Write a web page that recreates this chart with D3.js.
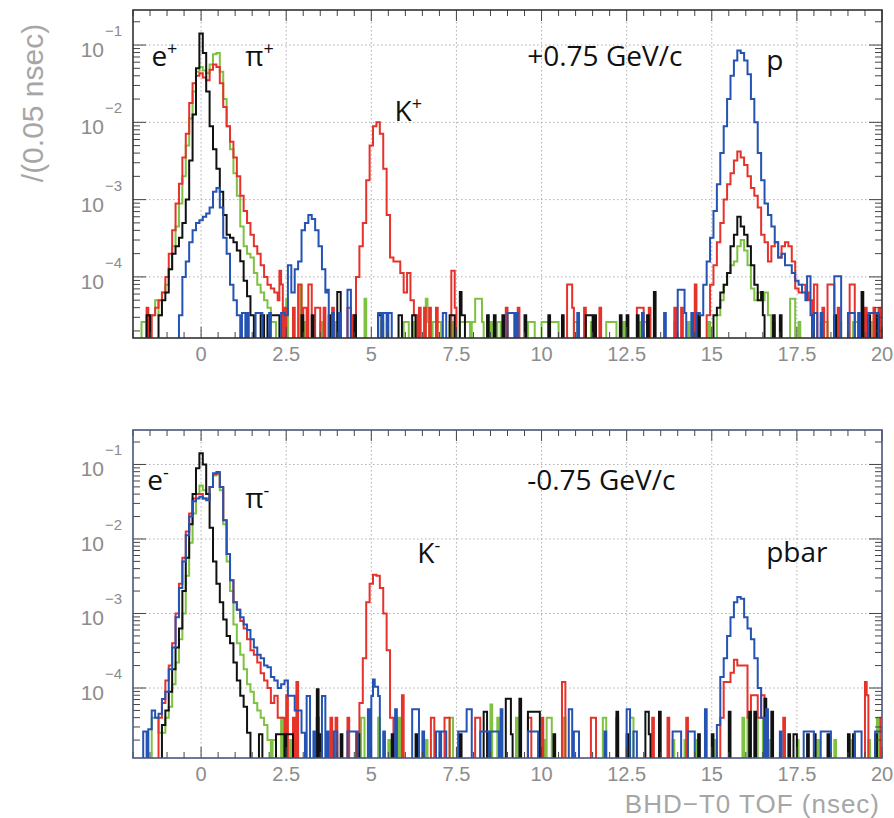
<!DOCTYPE html>
<html>
<head>
<meta charset="utf-8">
<script src="https://cdn.jsdelivr.net/npm/d3@7"></script>
<style>
  body { margin: 0; background: #fff; }
  svg { display: block; }
</style>
</head>
<body>
<svg class="chart"></svg>
<script>
var width = 894;
var height = 818;

// histogram binning (ns)
var binWidth = 0.05;
var xDomain = [-2, 20];
var xTickLabels = [0, 2.5, 5, 7.5, 10, 12.5, 15, 17.5, 20];
var gridX = [0, 2.5, 5, 7.5, 10, 12.5, 15, 17.5];
var decades = [1e-4, 1e-3, 1e-2, 1e-1];

// content of one entry, each histogram has its own normalisation
var topUnit = {black: 3.2e-5, red: 4.0e-5, green: 2.6e-5, blue: 3.4e-5};
var botUnit = {black: 2.4e-5, red: 4.0e-5, green: 2.0e-5, blue: 2.6e-5};

// peaks: [left edge of first bin, contents read every 0.1 ns]
var topBlackPeaks = [
  [-1.25, [3.2e-5, 5.0e-5, 6.3e-5, 1.26e-4, 2.0e-4, 2.5e-4, 3.2e-4, 5.0e-4, 1.0e-3, 3.2e-3, 1.26e-2, 5.0e-2, 0.141, 7.9e-2,
           2.5e-2, 8.9e-3, 4.5e-3, 2.5e-3, 1.26e-3, 6.3e-4, 3.5e-4, 3.2e-4, 2.8e-4, 2.2e-4, 1.6e-4, 8.9e-5, 5.6e-5, 3.2e-5]],
  [15.05, [3.2e-5, 4.0e-5, 6.3e-5, 7.9e-5, 1.12e-4, 2.5e-4, 3.5e-4, 6.0e-4, 4.5e-4, 3.5e-4, 2.5e-4, 1.41e-4, 7.9e-5, 5.0e-5, 3.2e-5]]
];
var topRedPeaks = [
  [-1.45, [3.2e-5, 4.0e-5, 5.0e-5, 6.3e-5, 1.0e-4, 2.0e-4, 4.0e-4, 8.9e-4, 1.6e-3, 3.5e-3, 7.1e-3, 1.78e-2, 3.2e-2, 4.0e-2,
           4.3e-2, 3.8e-2, 3.5e-2, 4.8e-2, 5.6e-2, 5.2e-2, 3.2e-2, 1.58e-2, 8.9e-3, 5.6e-3, 3.5e-3, 2.0e-3, 1.12e-3, 7.1e-4,
           5.0e-4, 3.5e-4, 2.5e-4, 2.0e-4, 1.41e-4, 1.0e-4, 7.9e-5, 7.1e-5, 6.3e-5, 5.0e-5]],
  [4.45, [3.2e-5, 1.0e-4, 2.5e-4, 5.0e-4, 1.78e-3, 5.0e-3, 8.9e-3, 1.0e-2, 7.1e-3, 2.5e-3, 6.3e-4, 1.78e-4, 1.58e-4, 1.58e-4,
          1.12e-4, 6.3e-5, 1.12e-4, 5.0e-5, 3.2e-5]],
  [14.85, [3.2e-5, 7.9e-5, 1.41e-4, 2.8e-4, 5.0e-4, 1.0e-3, 1.58e-3, 2.2e-3, 3.2e-3, 4.2e-3, 3.5e-3, 2.8e-3, 2.0e-3, 1.41e-3,
           1.12e-3, 7.9e-4, 3.5e-4, 2.8e-4, 1.58e-4, 2.5e-4, 2.8e-4, 1.78e-4, 2.5e-4, 2.8e-4, 2.5e-4, 1.58e-4, 7.1e-5, 6.3e-5,
           7.9e-5, 6.3e-5, 5.0e-5, 3.2e-5]]
];
var topGreenPeaks = [
  [-1.55, [3.2e-5, 3.2e-5, 5.0e-5, 3.2e-5, 6.3e-5, 7.9e-5, 1.26e-4, 2.5e-4, 4.5e-4, 8.9e-4, 2.0e-3, 5.0e-3, 1.12e-2, 2.5e-2,
           4.5e-2, 5.2e-2, 4.7e-2, 4.3e-2, 5.6e-2, 7.6e-2, 7.9e-2, 4.5e-2, 2.0e-2, 8.9e-3, 4.5e-3, 2.2e-3, 1.12e-3, 4.5e-4,
           2.5e-4, 2.0e-4, 1.78e-4, 1.12e-4, 7.9e-5, 6.3e-5, 5.0e-5, 4.0e-5]],
  [15.15, [3.2e-5, 5.0e-5, 7.9e-5, 1.12e-4, 1.41e-4, 1.58e-4, 2.5e-4, 3.0e-4, 2.2e-4, 1.41e-4, 7.1e-5, 5.0e-5, 6.3e-5, 5.0e-5,
           6.3e-5, 3.2e-5]]
];
var topBluePeaks = [
  [-0.65, [3.2e-5, 1.0e-4, 1.58e-4, 2.8e-4, 4.0e-4, 5.0e-4, 5.4e-4, 6.0e-4, 6.6e-4, 7.9e-4, 1.26e-3, 1.41e-3, 7.9e-4, 3.2e-4,
           2.0e-4, 7.9e-5, 5.0e-5, 3.2e-5]],
  [2.45, [3.2e-5, 1.41e-4, 6.3e-5, 1.26e-4, 1.58e-4, 4.0e-4, 5.0e-4, 6.3e-4, 5.6e-4, 4.0e-4, 2.5e-4, 1.26e-4, 6.3e-5]],
  [14.65, [3.2e-5, 7.9e-5, 1.58e-4, 3.2e-4, 7.1e-4, 1.58e-3, 4.0e-3, 8.9e-3, 2.0e-2, 4.0e-2, 6.3e-2, 8.5e-2, 7.9e-2, 6.3e-2,
           4.2e-2, 2.0e-2, 1.0e-2, 4.0e-3, 1.78e-3, 8.9e-4, 6.3e-4, 4.5e-4, 2.8e-4, 1.78e-4, 2.0e-4, 1.41e-4, 1.41e-4, 1.12e-4,
           8.9e-5, 7.9e-5, 6.3e-5, 5.0e-5, 3.2e-5]]
];

// isolated background entries: [from, to, entries per bin]
var topBlackHits = [
  [-1.6, -1.5, 1], [1.75, 1.85, 1], [1.95, 2.3, 1], [2.95, 3.0, 1], [3.25, 3.3, 1], [3.75, 3.8, 1], [4.0, 4.1, 2],
  [4.5, 4.55, 1], [5.2, 5.3, 1], [5.8, 5.9, 1], [6.2, 6.3, 1], [7.3, 7.45, 1], [7.6, 7.65, 2], [7.65, 7.75, 1],
  [8.4, 8.45, 1], [8.6, 8.65, 1], [8.85, 8.9, 1], [9.5, 9.55, 1], [10.2, 10.25, 1], [10.6, 10.65, 1], [11.3, 11.5, 1],
  [11.55, 11.6, 1], [12.3, 12.35, 1], [12.5, 12.55, 1], [12.8, 12.85, 1], [13.1, 13.15, 1], [13.3, 13.35, 2],
  [14.6, 14.65, 1], [16.45, 16.5, 2], [16.8, 16.85, 1], [17.0, 17.05, 1], [17.95, 18.0, 1], [18.6, 18.65, 1],
  [19.4, 19.45, 2], [19.6, 19.65, 1], [19.85, 19.9, 1]
];
var topRedHits = [
  [-1.6, -1.55, 1], [2.3, 2.35, 3], [2.35, 2.4, 2], [2.45, 2.5, 1], [2.7, 2.75, 1], [2.85, 2.95, 2], [3.0, 3.1, 1],
  [3.15, 3.25, 2], [3.35, 3.5, 1], [3.6, 3.65, 1], [3.85, 3.9, 1], [4.3, 4.4, 1], [6.4, 6.45, 1], [6.55, 6.6, 1],
  [6.7, 6.75, 1], [6.9, 6.95, 1], [7.35, 7.45, 3], [7.45, 7.5, 1], [8.95, 9.0, 1], [9.3, 9.35, 1], [10.75, 10.9, 2],
  [10.9, 10.95, 1], [11.25, 11.3, 1], [11.7, 11.75, 1], [12.8, 13.0, 1], [13.15, 13.2, 1], [13.9, 13.95, 1],
  [14.1, 14.15, 1], [14.5, 14.55, 2], [18.0, 18.1, 2], [18.25, 18.3, 1], [18.4, 18.6, 2], [18.7, 18.75, 1],
  [19.05, 19.2, 2], [19.5, 19.55, 1], [19.75, 19.8, 1], [19.9, 19.95, 1]
];
var topGreenHits = [
  [-1.75, -1.6, 1], [2.05, 2.2, 1], [2.5, 2.55, 2], [2.9, 2.95, 3], [3.0, 3.05, 1], [3.5, 3.55, 1], [3.95, 4.05, 1],
  [4.5, 4.55, 1], [4.8, 4.85, 2], [5.3, 5.35, 1], [5.95, 6.1, 1], [6.25, 6.35, 1], [6.6, 6.65, 2], [6.65, 6.7, 1],
  [6.8, 7.05, 1], [7.3, 7.4, 1], [7.6, 7.9, 1], [7.95, 8.05, 1], [8.05, 8.25, 2], [8.25, 8.3, 1], [8.5, 8.55, 1],
  [8.7, 8.8, 1], [8.9, 9.0, 1], [9.6, 9.8, 1], [10.0, 10.2, 1], [10.25, 10.5, 1], [10.95, 11.05, 1], [11.45, 11.5, 1],
  [11.9, 12.2, 1], [12.4, 12.45, 1], [12.9, 13.1, 1], [13.9, 13.95, 1], [14.3, 14.35, 1], [14.55, 14.6, 1],
  [14.9, 14.95, 1], [16.8, 16.85, 1], [17.3, 17.45, 2], [17.55, 17.6, 1], [18.2, 18.4, 1], [18.65, 18.8, 1],
  [19.15, 19.3, 1], [19.5, 19.7, 1], [19.9, 19.95, 1]
];
var topBlueHits = [
  [1.2, 1.3, 1], [1.35, 1.4, 1], [1.6, 1.8, 1], [2.0, 2.05, 1], [2.35, 2.45, 1], [3.7, 3.75, 2], [3.85, 3.9, 1],
  [4.05, 4.1, 1], [4.3, 4.4, 2], [5.2, 5.3, 1], [5.35, 5.45, 1], [5.5, 5.6, 1], [7.1, 7.2, 1], [9.0, 9.2, 1],
  [9.25, 9.3, 1], [11.05, 11.1, 1], [12.95, 13.0, 1], [13.6, 13.65, 1], [14.0, 14.2, 2], [14.2, 14.25, 1],
  [14.4, 14.45, 1], [14.55, 14.65, 1], [17.8, 17.9, 3], [18.0, 18.1, 1], [18.2, 18.25, 1], [18.6, 18.8, 3],
  [19.0, 19.2, 1], [19.3, 19.35, 1], [19.6, 19.9, 1]
];

var botBlackPeaks = [
  [-1.15, [3.2e-5, 5.0e-5, 8.9e-5, 1.78e-4, 3.5e-4, 6.3e-4, 2.0e-3, 5.6e-3, 1.58e-2, 4.0e-2, 8.9e-2, 0.141, 0.10, 4.0e-2,
           1.41e-2, 5.0e-3, 2.5e-3, 1.41e-3, 8.3e-4, 5.0e-4, 4.0e-4, 2.2e-4, 1.26e-4, 7.9e-5, 5.6e-5, 2.5e-5]]
];
var botRedPeaks = [
  [-1.25, [4.0e-5, 6.3e-5, 1.26e-4, 2.0e-4, 4.0e-4, 1.0e-3, 2.5e-3, 5.6e-3, 1.26e-2, 2.2e-2, 3.5e-2, 4.0e-2, 4.0e-2, 3.5e-2,
           3.5e-2, 5.0e-2, 7.4e-2, 7.6e-2, 5.0e-2, 1.78e-2, 6.3e-3, 2.8e-3, 1.41e-3, 1.12e-3, 7.9e-4, 6.3e-4, 4.5e-4, 3.2e-4,
           2.8e-4, 2.2e-4, 1.58e-4, 1.26e-4, 1.0e-4, 6.3e-5, 7.9e-5, 4.0e-5, 4.0e-5]],
  [4.55, [2.5e-5, 6.3e-5, 2.5e-4, 1.41e-3, 2.5e-3, 3.3e-3, 3.2e-3, 2.2e-3, 1.0e-3, 3.2e-4, 4.0e-5]],
  [15.25, [4.0e-5, 1.2e-4, 1.2e-4, 1.6e-4, 2.4e-4, 2.0e-4, 2.0e-4, 2.0e-4, 4.0e-5, 8.0e-5, 8.0e-5, 4.0e-5, 8.0e-5, 4.0e-5]]
];
var botGreenPeaks = [
  [-1.25, [2.5e-5, 2.5e-5, 4.0e-5, 5.6e-5, 1.12e-4, 2.2e-4, 4.5e-4, 1.0e-3, 3.2e-3, 8.9e-3, 2.2e-2, 4.0e-2, 5.2e-2, 4.5e-2,
           4.0e-2, 5.0e-2, 7.1e-2, 7.4e-2, 4.5e-2, 1.58e-2, 5.0e-3, 2.0e-3, 7.1e-4, 4.0e-4, 2.8e-4, 1.78e-4, 1.12e-4, 8.9e-5,
           6.3e-5, 5.0e-5, 4.0e-5, 3.2e-5, 2.0e-5]]
];
var botBluePeaks = [
  [-1.55, [2.8e-5, 5.0e-5, 4.0e-5, 4.5e-5, 7.1e-5, 8.9e-5, 1.78e-4, 3.5e-4, 8.9e-4, 2.2e-3, 5.0e-3, 1.12e-2, 2.0e-2, 3.2e-2,
           3.5e-2, 3.7e-2, 3.5e-2, 3.3e-2, 5.0e-2, 7.6e-2, 7.9e-2, 5.0e-2, 1.78e-2, 6.3e-3, 2.8e-3, 1.41e-3, 1.12e-3, 8.9e-4,
           7.1e-4, 6.0e-4, 4.5e-4, 3.5e-4, 2.8e-4, 2.5e-4, 2.0e-4, 1.9e-4, 1.41e-4, 1.26e-4, 1.0e-4, 1.12e-4, 1.26e-4, 7.9e-5,
           7.9e-5, 5.0e-5, 5.0e-5, 2.5e-5]],
  [15.15, [3.2e-5, 1.41e-4, 2.5e-4, 5.0e-4, 8.9e-4, 1.41e-3, 1.66e-3, 1.58e-3, 8.9e-4, 6.3e-4, 4.5e-4, 2.5e-4, 1.0e-4, 4.0e-5]]
];

var botBlackHits = [
  [1.7, 1.8, 1], [2.2, 2.45, 1], [2.5, 2.7, 1], [3.4, 3.45, 4], [3.5, 3.55, 1], [4.1, 4.15, 1], [4.6, 4.65, 1],
  [5.6, 5.65, 1], [6.3, 6.35, 1], [7.6, 7.65, 1], [8.3, 8.4, 2], [8.95, 9.1, 3], [9.1, 9.15, 1], [9.35, 9.4, 3],
  [9.6, 9.95, 2], [10.35, 10.4, 1], [12.2, 12.25, 2], [12.5, 12.55, 1], [13.05, 13.15, 2], [13.15, 13.2, 1],
  [13.45, 13.5, 2], [14.6, 14.65, 1], [15.0, 15.05, 1], [15.5, 15.55, 2], [16.1, 16.15, 2], [16.25, 16.3, 2],
  [16.55, 16.6, 3], [16.75, 16.8, 2], [17.25, 17.3, 1], [17.4, 17.5, 1], [17.8, 17.85, 1], [18.0, 18.05, 1],
  [18.4, 18.45, 1], [19.0, 19.05, 1], [19.15, 19.2, 1], [19.8, 19.85, 1]
];
var botRedHits = [
  [2.5, 2.55, 2], [2.7, 2.75, 1], [2.8, 2.85, 3], [3.4, 3.45, 1], [3.8, 3.85, 1], [3.95, 4.0, 1], [4.3, 4.35, 1],
  [5.7, 5.75, 1], [5.9, 5.95, 2], [6.75, 6.85, 1], [7.15, 7.3, 1], [8.05, 8.2, 1], [9.6, 9.7, 1], [10.0, 10.05, 1],
  [10.6, 10.7, 3], [11.45, 11.6, 1], [12.2, 12.25, 1], [13.25, 13.3, 1], [13.7, 13.75, 1], [14.25, 14.3, 1],
  [17.1, 17.15, 1], [19.5, 19.55, 3], [19.55, 19.6, 2], [19.95, 20.0, 1]
];
var botGreenHits = [
  [-1.45, -1.25, 2], [2.1, 2.2, 1], [2.35, 2.4, 2], [2.6, 2.65, 1], [3.4, 3.45, 2], [3.9, 4.0, 1], [4.7, 4.8, 2],
  [5.2, 5.25, 2], [5.5, 5.55, 1], [5.8, 5.85, 2], [6.6, 6.65, 1], [7.3, 7.4, 2], [8.5, 8.55, 3], [8.7, 8.75, 2],
  [9.25, 9.3, 2], [9.9, 10.1, 1], [10.15, 10.3, 2], [10.65, 10.7, 2], [11.8, 11.9, 2], [12.6, 12.7, 2],
  [13.85, 13.9, 1], [14.2, 14.25, 1], [14.55, 14.6, 1], [15.1, 15.15, 1], [15.9, 15.95, 2], [16.05, 16.1, 2],
  [16.3, 16.35, 2], [16.5, 16.55, 2], [16.65, 16.7, 1], [17.5, 17.55, 1], [18.1, 18.15, 1], [18.6, 18.65, 1],
  [19.1, 19.15, 1], [19.6, 19.65, 1], [19.85, 19.9, 2]
];
var botBlueHits = [
  [-1.7, -1.6, 1], [3.1, 3.2, 3], [3.3, 3.35, 1], [3.55, 3.65, 3], [3.7, 3.75, 1], [3.9, 4.0, 1], [4.3, 4.6, 1],
  [4.9, 4.95, 2], [5.0, 5.05, 3], [5.05, 5.1, 5], [5.1, 5.2, 4], [5.2, 5.25, 3], [5.35, 5.4, 1], [5.7, 5.75, 2],
  [6.2, 6.4, 2], [6.5, 6.55, 1], [6.9, 7.0, 1], [7.05, 7.2, 1], [7.55, 7.8, 1], [7.8, 7.95, 2], [8.2, 8.45, 1],
  [8.5, 8.75, 1], [8.8, 8.85, 2], [9.6, 9.9, 1], [10.8, 10.9, 2], [10.95, 11.1, 1], [11.85, 11.9, 1], [12.5, 12.6, 2],
  [12.7, 12.8, 1], [13.85, 14.1, 1], [14.3, 14.5, 1], [14.8, 14.85, 2], [16.6, 16.65, 2], [17.0, 17.05, 1],
  [17.7, 18.0, 1], [18.2, 18.5, 1], [19.2, 19.4, 1], [19.8, 20.0, 1]
];

var colors = {black: '#111111', red: '#e5332c', green: '#7ec242', blue: '#2453b3'};
var drawOrder = ['green', 'red', 'black', 'blue'];

var panels = [
  {
    top: 10, bottom: 338, yDomain: [1.62e-5, 0.284], frame: '#333',
    peaks: {black: topBlackPeaks, red: topRedPeaks, green: topGreenPeaks, blue: topBluePeaks},
    hits: {black: topBlackHits, red: topRedHits, green: topGreenHits, blue: topBlueHits},
    unit: topUnit,
    notes: [
      {x: -1.46, y: 0.054, t: 'e', s: '+'},
      {x: 1.30, y: 0.054, t: 'π', s: '+'},
      {x: 9.58, y: 0.054, t: '+0.75 GeV/c', s: ''},
      {x: 5.68, y: 0.0104, t: 'K', s: '+'},
      {x: 16.6, y: 0.048, t: 'p', s: ''}
    ]
  },
  {
    top: 430, bottom: 758, yDomain: [1.15e-5, 0.29], frame: '#46577c',
    peaks: {black: botBlackPeaks, red: botRedPeaks, green: botGreenPeaks, blue: botBluePeaks},
    hits: {black: botBlackHits, red: botRedHits, green: botGreenHits, blue: botBlueHits},
    unit: botUnit,
    notes: [
      {x: -1.58, y: 0.046, t: 'e', s: '-'},
      {x: 1.30, y: 0.026, t: 'π', s: '-'},
      {x: 9.58, y: 0.046, t: '-0.75 GeV/c', s: ''},
      {x: 6.35, y: 0.0048, t: 'K', s: '-'},
      {x: 16.6, y: 0.0049, t: 'pbar', s: ''}
    ]
  }
];

var left = 133, right = 882;

var chart = d3.select('.chart')
  .attr('width', width)
  .attr('height', height)
  .attr('viewBox', '0 0 ' + width + ' ' + height);

var x = d3.scaleLinear().domain(xDomain).range([left, right]);

// fill the bins of one histogram from its peaks and background entries
var buildHist = function(peaks, hits, unit) {
  var nBins = Math.round((xDomain[1] - xDomain[0]) / binWidth);
  var bins = d3.range(nBins).map(function() { return 0; });
  var idx = function(v) { return Math.round((v - xDomain[0]) / binWidth); };
  peaks.forEach(function(p) {
    p[1].forEach(function(v, i) {
      var k = idx(p[0]) + 2 * i;
      bins[k] = v;
      bins[k + 1] = v;
    });
  });
  hits.forEach(function(h) {
    for (var k = idx(h[0]); k < idx(h[1]); k++) {
      bins[k] = Math.max(bins[k], h[2] * unit);
    }
  });
  var pts = bins.map(function(v, k) { return {x: xDomain[0] + k * binWidth, v: v}; });
  pts.push({x: xDomain[1], v: bins[nBins - 1]});
  return pts;
};

var tickFont = '"Liberation Sans", Arial, sans-serif';

panels.forEach(function(p, pi) {
  var y = d3.scaleLog().domain(p.yDomain).range([p.bottom, p.top]);
  var g = chart.append('g');

  g.append('clipPath').attr('id', 'clip' + pi)
    .append('rect')
      .attr('x', left).attr('y', p.top)
      .attr('width', right - left).attr('height', p.bottom - p.top);

  // dotted grid
  g.selectAll('.gx').data(gridX).join('line')
    .attr('x1', function(d) { return x(d); }).attr('x2', function(d) { return x(d); })
    .attr('y1', p.top).attr('y2', p.bottom)
    .attr('stroke', '#9a9a9a').attr('stroke-width', 0.8).attr('stroke-dasharray', '1.5,2.5');
  g.selectAll('.gy').data(decades).join('line')
    .attr('y1', function(d) { return y(d); }).attr('y2', function(d) { return y(d); })
    .attr('x1', left).attr('x2', right)
    .attr('stroke', '#9a9a9a').attr('stroke-width', 0.8).attr('stroke-dasharray', '1.5,2.5');

  // histograms
  var line = d3.line()
    .curve(d3.curveStepAfter)
    .x(function(d) { return x(d.x); })
    .y(function(d) { return d.v > p.yDomain[0] ? y(d.v) : p.bottom + 2; });

  var hg = g.append('g').attr('clip-path', 'url(#clip' + pi + ')');
  drawOrder.forEach(function(name) {
    hg.append('path')
      .datum(buildHist(p.peaks[name], p.hits[name], p.unit[name]))
      .attr('d', line)
      .attr('fill', 'none')
      .attr('stroke', colors[name])
      .attr('stroke-width', 2)
      .attr('stroke-linejoin', 'miter');
  });

  // x ticks every 0.5 ns, long ones every 2.5 ns
  var xt = d3.range(xDomain[0], xDomain[1] + 0.001, 0.5);
  xt.forEach(function(v) {
    var major = Math.abs(v / 2.5 - Math.round(v / 2.5)) < 1e-6;
    var len = major ? 11 : 6;
    g.append('line').attr('x1', x(v)).attr('x2', x(v)).attr('y1', p.bottom).attr('y2', p.bottom - len)
      .attr('stroke', '#444').attr('stroke-width', 1);
    g.append('line').attr('x1', x(v)).attr('x2', x(v)).attr('y1', p.top).attr('y2', p.top + len)
      .attr('stroke', '#444').attr('stroke-width', 1);
  });

  // log ticks on both sides
  [-5, -4, -3, -2, -1].forEach(function(e) {
    d3.range(1, 10).forEach(function(m) {
      var v = m * Math.pow(10, e);
      if (v < p.yDomain[0] || v > p.yDomain[1]) return;
      var len = m === 1 ? 13 : 7;
      g.append('line').attr('x1', left).attr('x2', left + len).attr('y1', y(v)).attr('y2', y(v))
        .attr('stroke', '#444').attr('stroke-width', 1);
      g.append('line').attr('x1', right).attr('x2', right - len).attr('y1', y(v)).attr('y2', y(v))
        .attr('stroke', '#444').attr('stroke-width', 1);
    });
  });

  // frame
  g.append('rect')
    .attr('x', left).attr('y', p.top)
    .attr('width', right - left).attr('height', p.bottom - p.top)
    .attr('fill', 'none').attr('stroke', p.frame).attr('stroke-width', 1.6);

  // tick labels
  g.selectAll('.xl').data(xTickLabels).join('text')
    .attr('x', function(d) { return x(d); })
    .attr('y', p.bottom + 23)
    .attr('text-anchor', 'middle')
    .attr('font-family', tickFont).attr('font-size', 20)
    .attr('fill', '#8c8c8c')
    .text(function(d) { return d; });

  decades.forEach(function(d) {
    g.append('text')
      .attr('x', 104).attr('y', y(d) + 12)
      .attr('text-anchor', 'end')
      .attr('font-family', tickFont).attr('font-size', 21)
      .attr('fill', '#8c8c8c')
      .text('10');
    g.append('text')
      .attr('x', 105).attr('y', y(d) - 9)
      .attr('font-family', tickFont).attr('font-size', 15)
      .attr('fill', '#8c8c8c')
      .text('\u2212' + Math.round(-Math.log10(d)));
  });

  // particle labels
  p.notes.forEach(function(n) {
    var t = g.append('text')
      .attr('x', x(n.x)).attr('y', y(n.y))
      .attr('font-family', '"Open Sans", "Noto Sans", sans-serif')
      .attr('font-size', 28)
      .attr('fill', '#111')
      .text(n.t);
    if (n.s) {
      t.append('tspan')
        .attr('dy', -11)
        .attr('font-size', 18)
        .text(n.s);
    }
  });
});

// axis titles
chart.append('text')
  .attr('transform', 'translate(43,103) rotate(-90)')
  .attr('text-anchor', 'middle')
  .attr('font-family', tickFont).attr('font-size', 30)
  .attr('fill', '#a6a6a6')
  .text('/(0.05 nsec)');

chart.append('text')
  .attr('x', 880).attr('y', 813)
  .attr('text-anchor', 'end')
  .attr('font-family', tickFont).attr('font-size', 26)
  .attr('letter-spacing', 1)
  .attr('fill', '#a6a6a6')
  .text('BHD\u2212T0 TOF (nsec)');
</script>
</body>
</html>
